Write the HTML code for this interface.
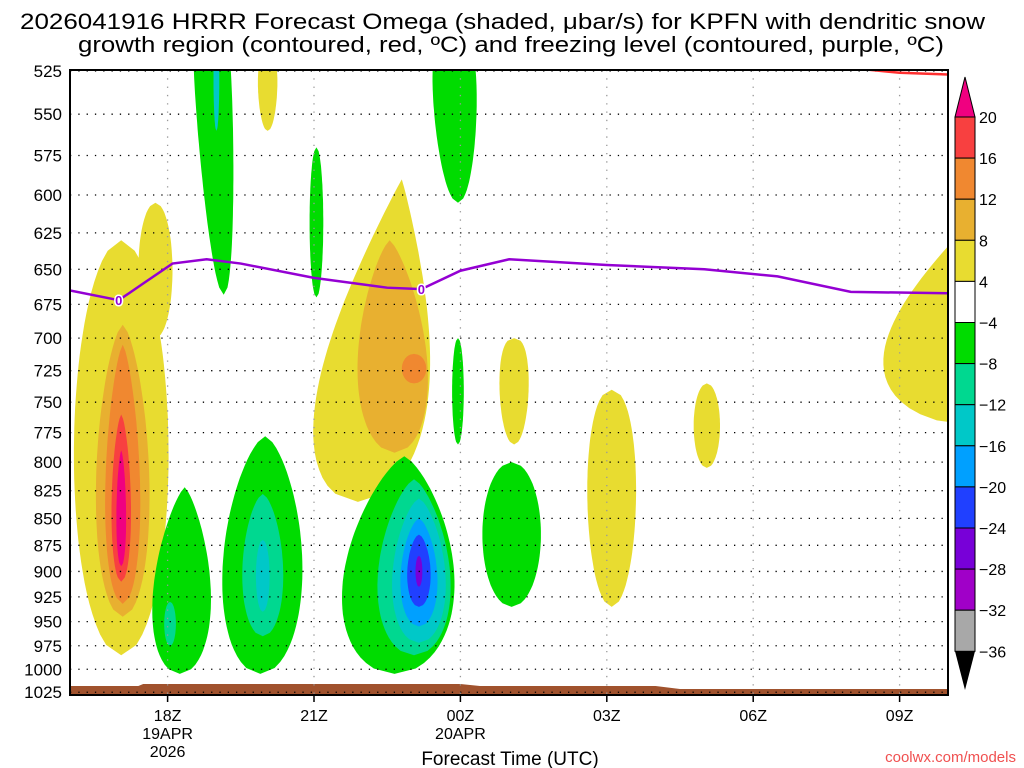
<!DOCTYPE html>
<html><head><meta charset="utf-8"><style>
html,body{margin:0;padding:0;background:#fff;}
svg{display:block;font-family:"Liberation Sans","DejaVu Sans",sans-serif;}
</style></head><body>
<svg id="chart" width="1024" height="768" viewBox="0 0 1024 768">
<defs><clipPath id="plotclip"><rect x="70" y="70" width="878" height="625"/></clipPath></defs>
<text x="20" y="29" font-size="22" textLength="965" lengthAdjust="spacingAndGlyphs">2026041916 HRRR Forecast Omega (shaded, μbar/s) for KPFN with dendritic snow</text>
<text x="78" y="52" font-size="22" textLength="866" lengthAdjust="spacingAndGlyphs">growth region (contoured, red, ºC) and freezing level (contoured, purple, ºC)</text>
<g id="fills" clip-path="url(#plotclip)"></g>
<g id="grid"></g>
<g id="lines" clip-path="url(#plotclip)"></g>
<rect x="70" y="70" width="878" height="625" fill="none" stroke="#000" stroke-width="2"/>
<g id="yaxis"></g>
<g id="xaxis"></g>
<text x="510" y="765" font-size="19" text-anchor="middle">Forecast Time (UTC)</text>
<text x="1016" y="762" font-size="15" fill="#f05050" text-anchor="end">coolwx.com/models</text>
<g id="cbar"></g>
</svg>
<script>
const pressureTicks=[525,550,575,600,625,650,675,700,725,750,775,800,825,850,875,900,925,950,975,1000,1025];
const timeTickHours=[2,5,8,11,14,17];
const timeTickLabels=[["18Z","19APR","2026"],["21Z"],["00Z","20APR"],["03Z"],["06Z"],["09Z"]];
const levelValues=[20,16,12,8,4,-4,-8,-12,-16,-20,-24,-28,-32,-36];
const levelColors=["#f84040","#f08830","#e8b030","#e8dc30","#ffffff","#00dc00","#00d890","#00c8c8","#00a0ff","#2040ff","#7800d8","#a000c8","#a8a8a8"];
const topArrowColor="#f00080";
// blobs: [centerHour, halfWidthHours, pressureTop, pressureBottom, colorIndex, shapeK, tiltHours]
const blobs=[
[1.05,0.97,630,985,3,1.05,0],[1.75,0.35,605,700,3,1,0],[1.08,0.55,690,945,2,1.3,0],[1.08,0.36,705,932,1,1.4,0],[1.05,0.2,760,910,0,1.3,0],[1.05,0.1,790,895,-1,1.3,0],
[2.3,0.6,822,1005,5,1.5,-0.1],[2.05,0.12,930,975,6,1,0],
[3.0,0.38,490,668,5,0.5,0.3],[3.0,0.06,500,560,7,1,0],
[4.05,0.2,515,560,3,0.7,0],
[3.95,0.82,778,1005,5,1.3,-0.1],[3.95,0.42,828,965,6,1.25,0],[3.95,0.14,870,940,7,1,0],
[5.05,0.14,570,670,5,1,0],
[6.35,1.15,590,835,3,1.9,-0.9],[6.6,0.72,630,792,2,1.5,0.1],[7.05,0.25,712,735,1,1,0],
[6.75,1.15,795,1005,5,1.45,-0.2],[7.05,0.75,815,985,6,1.4,0],[7.15,0.55,832,972,7,1.35,0],[7.15,0.38,850,955,8,1.3,0],[7.15,0.24,865,935,9,1.2,0],[7.15,0.07,885,915,10,1,0],
[7.9,0.45,505,605,5,0.6,0.1],[7.95,0.12,700,785,5,1,0],
[9.1,0.3,700,785,3,0.8,0],[9.05,0.6,800,935,5,1,0],
[11.1,0.5,740,935,3,0.9,0],[13.05,0.27,735,805,3,1,0],
[19.0,2.2,590,770,3,2.0,-0.6]
];
const freezeH=[0,1,1.5,2.1,2.8,3.5,5,6.5,7.2,8,9,11,13,14.5,16,18];
const freezeP=[665,672,660,646,643,646,656,663,664,651,643,647,650,655,666,667];
const dgzH=[15.9,17,18];
const dgzP=[523,526,527];
const groundH=[0,1.4,1.5,8,8.4,12,12.5,18];
const groundTop=[686,686,684,684,686,686,689,689];

const NS='http://www.w3.org/2000/svg';
const X0=70,PXH=48.8,Y0=71,PXLN=928.5;
const xs=h=>X0+h*PXH;
const ys=p=>Y0+Math.log(p/525)*PXLN;
function mk(t,a,parent){const e=document.createElementNS(NS,t);for(const k in a)e.setAttribute(k,a[k]);parent.appendChild(e);return e;}
function blobPath(b){
  const y1=ys(b[2]),y2=ys(b[3]),k=b[5]||1,tilt=b[6]||0,N=40;
  const L=[],R=[];
  for(let i=0;i<=N;i++){
    const t=i/N,s=Math.pow(t,k);
    const w=b[1]*PXH*Math.sqrt(Math.max(0,1-(2*s-1)*(2*s-1)));
    const cx=xs(b[0]+tilt*(t-0.5));
    const y=y1+(y2-y1)*t;
    L.push([cx-w,y]);R.push([cx+w,y]);
  }
  const pts=L.concat(R.reverse());
  return 'M'+pts.map(p=>p[0].toFixed(1)+','+p[1].toFixed(1)).join(' L')+' Z';
}
const fills=document.getElementById('fills');
blobs.forEach(b=>{
  const col=b[4]<0?topArrowColor:levelColors[b[4]];
  const e=mk('path',{d:blobPath(b),fill:col},fills);
  
  
});
let gp='M'+xs(groundH[0])+',700';
groundH.forEach((h,i)=>{gp+=' L'+xs(h)+','+groundTop[i];});
gp+=' L'+xs(groundH[groundH.length-1])+',700 Z';
const g=mk('path',{d:gp,fill:'#a0522d'},fills);


const grid=document.getElementById('grid');
pressureTicks.forEach(p=>{
  const l=mk('line',{x1:70,x2:948,y1:ys(p),y2:ys(p),stroke:'#000','stroke-width':1.3,'stroke-dasharray':'1.3 7'},grid);
  
  
});
timeTickHours.forEach(h=>{
  const l=mk('line',{x1:xs(h),x2:xs(h),y1:70,y2:695,stroke:'#999','stroke-width':1.3,'stroke-dasharray':'1.3 7'},grid);
  
  
});
const lines=document.getElementById('lines');
let fp='';freezeH.forEach((h,i)=>{fp+=(i?' L':'M')+xs(h)+','+ys(freezeP[i]);});
const fl=mk('path',{d:fp,fill:'none',stroke:'#9400d3','stroke-width':2.5},lines);


[[1,672],[7.2,664]].forEach(q=>{
  const t=mk('text',{x:xs(q[0]),y:ys(q[1])+5,'font-size':13,'text-anchor':'middle',fill:'#9400d3',stroke:'#fff','stroke-width':3,'paint-order':'stroke','font-weight':'bold'},lines);
  t.textContent='0';
  
  
});
let dp='';dgzH.forEach((h,i)=>{dp+=(i?' L':'M')+xs(h)+','+ys(dgzP[i]);});
const dl=mk('path',{d:dp,fill:'none',stroke:'#ff3030','stroke-width':2.5},lines);


const ya=document.getElementById('yaxis');
pressureTicks.forEach(p=>{
  const t=mk('text',{x:62,y:ys(p)+6,'font-size':17,'text-anchor':'end'},ya);
  t.textContent=p;
  
  
});
const xa=document.getElementById('xaxis');
timeTickHours.forEach((h,i)=>{
  const tk=mk('line',{x1:xs(h),x2:xs(h),y1:695,y2:702,stroke:'#000','stroke-width':1.5},xa);
  
  
  timeTickLabels[i].forEach((s,j)=>{
    const t=mk('text',{x:xs(h),y:721+j*18,'font-size':16,'text-anchor':'middle'},xa);
    t.textContent=s;
    
    
  });
});
const cb=document.getElementById('cbar');
const cbX=955,cbW=20,cbTop=117,cbStep=41.1;
const ta=mk('polygon',{points:cbX+','+cbTop+' '+(cbX+cbW)+','+cbTop+' '+(cbX+cbW/2)+',77',fill:topArrowColor,stroke:'#000','stroke-width':1},cb);


levelColors.forEach((c,i)=>{
  const r=mk('rect',{x:cbX,y:cbTop+i*cbStep,width:cbW,height:cbStep,fill:c,stroke:'#000','stroke-width':1},cb);
  
  
});
const bTop=cbTop+levelColors.length*cbStep;
const ba=mk('polygon',{points:cbX+','+bTop+' '+(cbX+cbW)+','+bTop+' '+(cbX+cbW/2)+',690',fill:'#000'},cb);


levelValues.forEach((v,i)=>{
  const t=mk('text',{x:979,y:cbTop+i*cbStep+6,'font-size':16},cb);
  t.textContent=v<0?'\u2212'+Math.abs(v):String(v);
  
  
});
</script>
</body></html>
